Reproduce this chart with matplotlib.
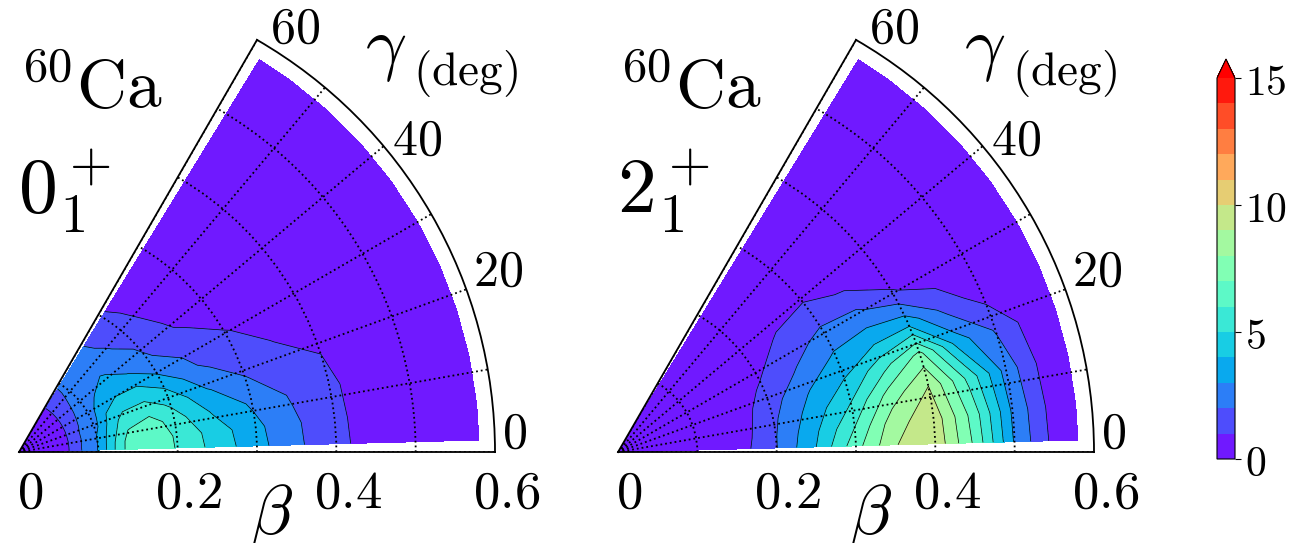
import numpy as np
import matplotlib

matplotlib.use('Agg')  # no display
import matplotlib.pyplot as plt

plt.rcParams['mathtext.fontset'] = 'cm'
plt.rcParams['font.family'] = ['DejaVu Serif']

# collective coordinates of the grid
beta = [0.0, 0.03, 0.06, 0.08, 0.10, 0.12, 0.14, 0.17, 0.20, 0.25, 0.30, 0.35, 0.40, 0.45, 0.50, 0.55, 0.58]
gamma = [1.5, 6, 12, 18, 24, 30, 36, 42, 48, 54, 58.5]  # deg

# probability density, one row per beta value, entries run over gamma
prob_0plus = [
    [0.2, 0.2, 0.2, 0.2, 0.2, 0.2, 0.2, 0.2, 0.2, 0.2, 0.2],
    [0.5, 0.5, 0.5, 0.5, 0.5, 0.5, 0.5, 0.5, 0.5, 0.5, 0.5],
    [0.8, 0.8, 0.8, 0.8, 0.8, 0.8, 0.8, 0.8, 0.8, 0.8, 0.8],
    [2.05, 2.05, 2.0, 2.0, 1.95, 1.9, 1.85, 1.8, 1.75, 1.7, 1.7],
    [3.05, 3.03, 3.0, 2.6, 2.5, 2.5, 2.45, 2.4, 2.3, 2.2, 2.15],
    [4.9, 4.85, 4.6, 4.3, 4.0, 3.6, 3.1, 2.7, 2.5, 2.4, 2.3],
    [6.5, 6.45, 5.95, 5.5, 4.6, 4.0, 3.6, 3.1, 2.6, 2.4, 2.3],
    [6.8, 6.75, 6.5, 5.6, 4.7, 3.9, 2.95, 2.6, 2.1, 1.85, 1.75],
    [5.9, 5.85, 5.5, 4.8, 3.95, 2.9, 2.15, 1.85, 1.5, 1.25, 1.1],
    [4.6, 4.5, 3.85, 3.1, 2.15, 1.7, 1.15, 0.85, 0.6, 0.5, 0.45],
    [3.35, 3.25, 2.85, 2.05, 1.6, 1.05, 0.7, 0.5, 0.4, 0.35, 0.3],
    [2.2, 2.15, 1.9, 1.45, 0.95, 0.7, 0.5, 0.4, 0.3, 0.25, 0.25],
    [1.2, 1.18, 1.15, 1.0, 0.7, 0.5, 0.35, 0.3, 0.25, 0.2, 0.2],
    [0.65, 0.63, 0.6, 0.5, 0.4, 0.3, 0.25, 0.2, 0.15, 0.15, 0.15],
    [0.4, 0.4, 0.38, 0.33, 0.28, 0.22, 0.18, 0.15, 0.12, 0.1, 0.1],
    [0.25, 0.25, 0.23, 0.2, 0.17, 0.14, 0.12, 0.1, 0.08, 0.07, 0.07],
    [0.2, 0.2, 0.18, 0.16, 0.13, 0.11, 0.09, 0.08, 0.06, 0.05, 0.05],
]

prob_2plus = [
    [0.05, 0.05, 0.05, 0.05, 0.05, 0.05, 0.05, 0.05, 0.05, 0.05, 0.05],
    [0.05, 0.05, 0.05, 0.05, 0.05, 0.05, 0.05, 0.05, 0.05, 0.05, 0.05],
    [0.05, 0.05, 0.05, 0.05, 0.05, 0.05, 0.05, 0.05, 0.05, 0.05, 0.05],
    [0.08, 0.08, 0.07, 0.06, 0.05, 0.05, 0.05, 0.05, 0.05, 0.05, 0.05],
    [0.15, 0.15, 0.13, 0.12, 0.1, 0.08, 0.06, 0.05, 0.05, 0.05, 0.05],
    [0.25, 0.25, 0.22, 0.2, 0.17, 0.13, 0.1, 0.07, 0.05, 0.05, 0.05],
    [0.45, 0.44, 0.4, 0.35, 0.3, 0.22, 0.15, 0.1, 0.06, 0.05, 0.05],
    [1.05, 1.0, 0.9, 0.8, 0.65, 0.5, 0.35, 0.2, 0.1, 0.05, 0.05],
    [1.97, 1.95, 1.8, 1.5, 1.15, 0.8, 0.5, 0.2, 0.05, 0.05, 0.03],
    [4.0, 3.8, 3.4, 2.9, 2.15, 1.6, 1.1, 0.6, 0.3, 0.1, 0.05],
    [6.6, 6.0, 5.0, 4.0, 3.15, 2.3, 1.3, 0.7, 0.3, 0.1, 0.05],
    [8.95, 8.6, 7.4, 5.6, 3.6, 2.2, 0.9, 0.4, 0.15, 0.05, 0.03],
    [9.75, 9.65, 9.0, 7.3, 3.6, 1.1, 0.4, 0.1, 0.05, 0.03, 0.03],
    [6.8, 6.6, 5.8, 3.5, 1.6, 0.5, 0.25, 0.05, 0.03, 0.03, 0.03],
    [2.9, 2.85, 2.6, 1.9, 0.5, 0.3, 0.1, 0.03, 0.03, 0.03, 0.03],
    [0.7, 0.65, 0.55, 0.4, 0.2, 0.1, 0.05, 0.03, 0.03, 0.03, 0.03],
    [0.3, 0.3, 0.25, 0.2, 0.1, 0.05, 0.03, 0.03, 0.03, 0.03, 0.03],
]

states = [r'$0^+_1$', r'$2^+_1$']
nucleus = r'$^{60}\mathrm{Ca}$'
levels = np.arange(0, 16, 1)
beta_ticks = [0, 0.2, 0.4, 0.6]
gamma_ticks = [0, 20, 40, 60]
cbar_ticks = [0, 5, 10, 15]

# where the gamma labels sit around the arc (deg, beta)
gamma_label_pos = [(2.1, 0.625), (20.6, 0.645), (38.0, 0.636), (56.9, 0.637)]

W, H = 1296, 543
fig = plt.figure(figsize=(W / 100, H / 100), dpi=100)

theta, rad = np.meshgrid(np.radians(gamma), beta)

cf = None
for k, (state, prob) in enumerate(zip(states, [prob_0plus, prob_2plus])):
    # polar wedges are fitted into a square box
    x0 = 19 + 599 * k
    ax = fig.add_axes([x0 / W, 59 / H, 476 / W, 476 / H], projection='polar')
    ax.set_thetamin(0)
    ax.set_thetamax(60)
    ax.set_rlim(0, 0.6)

    z = np.array(prob)
    cf = ax.contourf(theta, rad, z, levels=levels, cmap='rainbow', extend='max')
    ax.contour(theta, rad, z, levels=levels[1:], colors='k', linewidths=0.5)

    # dotted grid every 10 deg and every 0.1 in beta
    ax.set_xticks(np.radians(np.arange(0, 61, 10)))
    ax.set_yticks([0.1, 0.2, 0.3, 0.4, 0.5])
    ax.set_xticklabels([])
    ax.set_yticklabels([])
    ax.tick_params(length=0)
    ax.grid(True, color='k', linestyle=':', linewidth=1.3)
    ax.set_axisbelow(False)
    for s in ax.spines.values():
        s.set_linewidth(1.3)
        s.set_color('k')

    for b in beta_ticks:
        ax.annotate(f'${b:g}$', xy=(0, b), xytext=(8, -11), textcoords='offset points',
                    ha='center', va='top', fontsize=38, annotation_clip=False)
    for g, (gd, gr) in zip(gamma_ticks, gamma_label_pos):
        ax.text(np.radians(gd), gr, f'${g}$', ha='center', va='center', fontsize=36)

    ax.text(0.531, 0.004, r'$\beta$', transform=ax.transAxes, ha='center', va='top', fontsize=50)
    ax.text(0.727, 0.876, r'$\gamma$', transform=ax.transAxes,
            ha='left', va='baseline', fontsize=52)
    ax.text(0.828, 0.838, r'$\rm (deg)$', transform=ax.transAxes,
            ha='left', va='baseline', fontsize=34)
    ax.text(0.002, 0.790, nucleus, transform=ax.transAxes, ha='left', va='baseline', fontsize=50)
    ax.text(-0.002, 0.569, state, transform=ax.transAxes, ha='left', va='baseline', fontsize=56)

cax = fig.add_axes([1217 / W, 84 / H, 18 / W, 400 / H])
cb = fig.colorbar(cf, cax=cax, ticks=cbar_ticks)
cb.ax.set_yticklabels([f'${t}$' for t in cbar_ticks])
cb.ax.tick_params(labelsize=30, length=4, width=0.8, pad=3)
cb.outline.set_linewidth(0.8)

fig.savefig('out.png', dpi=100)
